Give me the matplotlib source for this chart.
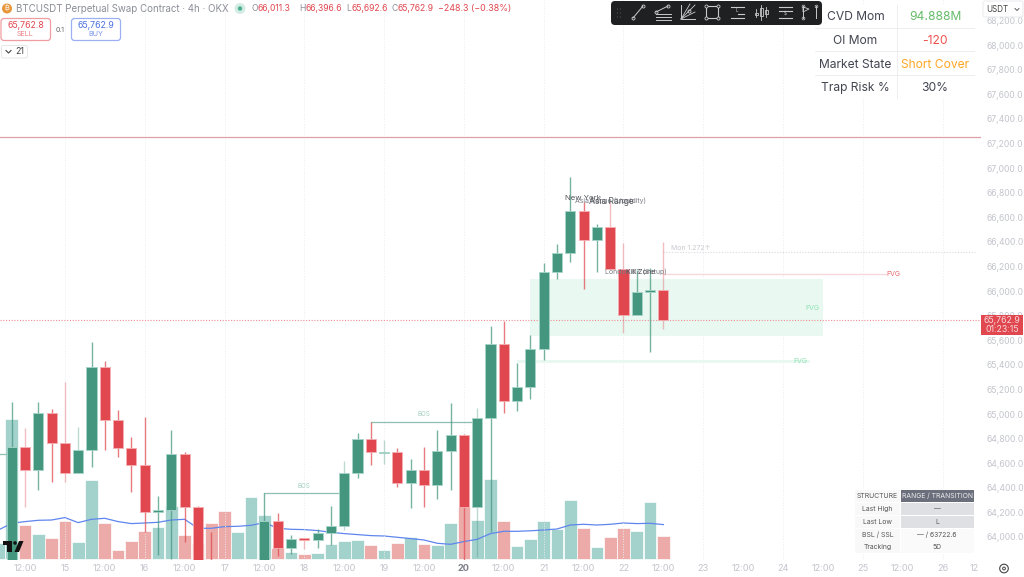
import matplotlib
matplotlib.use("Agg")
import matplotlib.pyplot as plt
from matplotlib.patches import Rectangle, FancyBboxPatch, Circle, Polygon

plt.rcParams["font.family"] = ["Inter", "DejaVu Sans"]

# candles, one every 4h, index 0 is 12:00 on the 14th
candle_idx = list(range(-2, 49))
opens = [63600, 63700, 64729, 64545, 65006, 64762, 64523, 64707, 65385, 64951, 64721, 64585,
         64206, 64220, 64677, 64241, 63700, 63600, 63500, 63550, 63720, 64130, 63908, 63992,
         63976, 64033, 64089, 64518, 64799, 64685, 64689, 64439, 64545, 64425, 64697, 64832,
         64244, 64965, 65567, 65108, 65222, 65528, 66157, 66311, 66648, 66412, 66518, 66179,
         65802, 65989, 66011.3]
highs = [63720, 65098, 64884, 65098, 65038, 65263, 64892, 65583, 65431, 65030, 64815, 64973,
         64333, 64870, 64694, 64252, 64041, 63650, 63600, 63700, 64358, 64198, 64016, 63994,
         64065, 64255, 64620, 64848, 64937, 64789, 64721, 64632, 64729, 64870, 65087, 64835,
         65046, 65715, 65756, 65417, 65642, 66225, 66382, 66924, 66726, 66545, 66721, 66393,
         66171, 66185, 66396.6]
lows = [63550, 63600, 64246, 64382, 64445, 64450, 64523, 64567, 64707, 64653, 64366, 64043,
        63854, 63824, 63962, 63600, 63500, 63450, 63450, 63500, 63600, 63848, 63859, 63900,
        63913, 63935, 64057, 64477, 64585, 64591, 64409, 64238, 64241, 64309, 64382, 63800,
        63840, 64038, 65006, 65024, 65120, 65439, 66095, 66238, 66014, 66157, 66179, 65656,
        65802, 65507, 65692.6]
closes = [63700, 64729, 64545, 65006, 64762, 64523, 64707, 65385, 64951, 64721, 64585, 64206,
          64220, 64677, 64241, 63700, 63550, 63500, 63550, 63650, 64130, 63908, 63986, 63976,
          64033, 64089, 64518, 64799, 64689, 64694, 64439, 64545, 64425, 64697, 64832, 64244,
          64965, 65567, 65108, 65222, 65528, 66157, 66311, 66648, 66412, 66518, 66179, 65802,
          65989, 66006, 65762.9]
volumes = [16, 140, 34.3, 25, 21.3, 38, 17.3, 79.3, 36, 9.3, 18.7, 28.7,
           32.3, 53.3, 24.3, 16, 36.3, 48.3, 27, 62.3, 44.7, 11, 7.3, 5.3,
           6, 15.7, 18.3, 19.3, 14.3, 9.3, 16.3, 22.3, 15, 14.7, 36, 52.7,
           39, 80, 38.3, 13, 20.3, 38.7, 30.7, 59, 31.3, 12.3, 22.3, 31.3,
           28.3, 57, 23.3]
volume_ma = [29.3, 36, 37.7, 39, 39.3, 41.7, 36.7, 40, 41, 37.7, 35.7, 36.3,
             37, 39.3, 40, 31, 31, 32.7, 33, 34, 36.7, 31, 30, 29.7,
             28.7, 27, 25.7, 24.7, 23.7, 23.3, 22, 20.7, 19.3, 16, 15, 17.7,
             20, 25.7, 28, 28, 28.5, 29.3, 30.3, 34.3, 35, 34.3, 35, 36.3,
             35.7, 36, 34.7]

price_ticks = list(range(64000, 68400, 200))
time_ticks = [0, 3, 6, 9, 12, 15, 18, 21, 24, 27, 30, 33, 36, 39, 42, 45, 48, 51, 54, 57, 60, 63, 66, 69, 71.4]
time_labels = ["12:00", "15", "12:00", "16", "12:00", "17", "12:00", "18", "12:00", "19", "12:00", "20",
               "12:00", "21", "12:00", "22", "12:00", "23", "12:00", "24", "12:00", "25", "12:00", "26", "12"]
day_ticks = [3, 9, 15, 21, 27, 33, 39, 45, 51, 57, 63, 69]

last_price = 65762.9
upper_line = 67252
fvg_box = (38, 60, 65637, 66098)
fvg_thin = (37, 59, 65411, 65443)
fvg_red = (48, 64.7, 66142)
mon_level = (48, 71.4, 66321)
bos_lines = [(18, 24, 64358), (26, 34, 64939)]
pale_wicks = {0, 3, 4, 21, 24, 27, 34, 44, 45, 48}

GREEN = "#44967f"
RED = "#e0474f"
GRID = "#ececef"
AXTXT = "#c3c5cc"

fig = plt.figure(figsize=(10.24, 5.77), dpi=100, facecolor="white")
W, H = 1024.0, 577.0
rect = [0, 1 - 560 / H, 981 / W, 560 / H]

vol = fig.add_axes(rect, zorder=1)
ax = fig.add_axes(rect, zorder=2)
ax.patch.set_visible(False)

xlim = (-1.88, 71.88)
vol.set_xlim(*xlim)
vol.set_ylim(-0.7, 559.3)
vol.axis("off")
ax.set_xlim(*xlim)
ax.set_ylim(63813, 68366)

vol_cols = ["#a3d1cc" if c >= o else "#ecaaa8" for o, c in zip(opens, closes)]
vol.bar(candle_idx, volumes, width=0.96, color=vol_cols, edgecolor="white", linewidth=0.5)
vol.plot(candle_idx, volume_ma, color="#5f86ee", lw=0.9)

ax.vlines(day_ticks, 63813, 68366, color=GRID, lw=0.7, linestyle=":", zorder=0)

# levels and zones behind the candles
ax.add_patch(Rectangle((fvg_box[0], fvg_box[2]), fvg_box[1] - fvg_box[0], fvg_box[3] - fvg_box[2],
                       color="#e9f8f1", lw=0, zorder=1))
ax.add_patch(Rectangle((fvg_thin[0], fvg_thin[2]), fvg_thin[1] - fvg_thin[0], fvg_thin[3] - fvg_thin[2],
                       color="#e9f8f1", lw=0, zorder=1))
ax.axhline(upper_line, color="#dfa0a5", lw=0.9, zorder=1)
ax.axhline(last_price, color="#ee8d92", lw=0.8, linestyle=(0, (1, 1.5)), zorder=1)
ax.plot(fvg_red[:2], [fvg_red[2]] * 2, color="#f8d8da", lw=1.0, zorder=1)
ax.plot(mon_level[:2], [mon_level[2]] * 2, color="#d9d9dc", lw=0.8, linestyle=(0, (1, 1.5)), zorder=1)
for x0, x1, y in bos_lines:
    ax.plot([x0, x1], [y, y], color="#8fbfb0", lw=0.9, zorder=1)
ax.plot([-2, -1], [64675, 64675], color="#8fbfb0", lw=0.9, zorder=1)

for i, o, h, l, c in zip(candle_idx, opens, highs, lows, closes):
    col = GREEN if c >= o else RED
    ax.vlines(i, l, h, color=col, lw=1.0, alpha=0.35 if i in pale_wicks else 0.72, zorder=2)
    edge = "#a8d5ca" if c >= o else "#f4b0b3"
    ax.bar(i, abs(c - o), bottom=min(o, c), width=0.76, color=col, edgecolor=edge, linewidth=0.6, zorder=3)

ax.text(59.2, 65862, "FVG", color="#8fe3b2", fontsize=5, ha="center", va="center", zorder=4)
ax.text(58.3, 65427, "FVG", color="#8fe3b2", fontsize=5, ha="center", va="center", zorder=4)
ax.text(65.3, 66142, "FVG", color="#e8676e", fontsize=5, ha="center", va="center", zorder=4)
ax.text(48.6, 66350, "Mon 1.272↑", color="#c9cad0", fontsize=5, ha="left", va="center", zorder=4)
ax.text(21, 64415, "BOS", color="#a3cfc3", fontsize=4.5, ha="center", va="center", zorder=4)
ax.text(30, 65000, "BOS", color="#a3cfc3", fontsize=4.5, ha="center", va="center", zorder=4)
ax.text(41.95, 66756, "New York", color="#55585f", fontsize=5.6, ha="center", va="center", zorder=4)
ax.text(44, 66730, "Asia Range (Liquidity)", color="#7c7e85", fontsize=5, ha="center", va="center", zorder=4)
ax.text(44.1, 66730, "Asia Range", color="#55585f", fontsize=6.2, ha="center", va="center", zorder=4)
ax.text(45.9, 66157, "London KZ (Setup)", color="#7c7e85", fontsize=5, ha="center", va="center", zorder=4)
ax.text(46.3, 66157, "Kill Zone", color="#55585f", fontsize=5.2, ha="center", va="center", zorder=4)

for s in ax.spines.values():
    s.set_visible(False)
ax.yaxis.tick_right()
ax.set_yticks(price_ticks)
ax.set_yticklabels([f"{p:,.1f}" for p in price_ticks], color=AXTXT, fontsize=6.2)
ax.tick_params(axis="y", length=0, pad=4)
ax.set_xticks(time_ticks)
ax.set_xticklabels(time_labels, color=AXTXT, fontsize=6.6)
ax.tick_params(axis="x", length=0, pad=3)
ax.get_xticklabels()[11].set_color("#7b7e87")
ax.get_xticklabels()[11].set_fontweight("bold")

# interface overlay, in pixels of the screenshot
ui = fig.add_axes([0, 0, 1, 1], zorder=3)
ui.set_xlim(0, W)
ui.set_ylim(H, 0)
ui.axis("off")
ui.patch.set_visible(False)


def box(x0, y0, x1, y1, face, edge="none", lw=0.0, rad=0.0):
    if rad:
        p = FancyBboxPatch((x0 + rad, y0 + rad), x1 - x0 - 2 * rad, y1 - y0 - 2 * rad,
                           boxstyle=f"round,pad={rad},rounding_size={rad}", fc=face, ec=edge, lw=lw)
    else:
        p = Rectangle((x0, y0), x1 - x0, y1 - y0, fc=face, ec=edge, lw=lw)
    ui.add_patch(p)


def txt(x, y, s, color="#444", size=7, ha="center", **kw):
    ui.text(x, y, s, color=color, fontsize=size, ha=ha, va="center", **kw)


# header
ui.add_patch(Circle((7, 8.5), 5, fc="#e8963a", ec="none"))
txt(7, 8.5, "₿", "white", 5.5)
txt(15.5, 8.5, "BTCUSDT Perpetual Swap Contract · 4h · OKX", "#8b8e97", 7.0, ha="left")
ui.add_patch(Circle((240, 8.5), 5.5, fc="#d5ece5", ec="none"))
ui.add_patch(Circle((240, 8.5), 2.2, fc="#4caf93", ec="none"))
ohlc = [(252, "O", "66,011.3"), (299, "H", "66,396.6"), (346, "L", "65,692.6"), (392, "C", "65,762.9")]
for x, k, v in ohlc:
    txt(x, 8.5, k, "#8b8e97", 6.2, ha="left")
    txt(x + 6, 8.5, v, "#e0474f", 6.2, ha="left")
txt(438, 8.5, "−248.3 (−0.38%)", "#e0474f", 6.4, ha="left")

box(1, 18.5, 50.5, 40.5, "white", "#f09ca0", 0.9, 3)
txt(25.5, 25, "65,762.8", "#e0474f", 6.3)
txt(25.5, 34, "SELL", "#ec7d82", 5.2)
txt(60.5, 30, "0.1", "#666", 5)
box(71.5, 18.5, 120.5, 40.5, "white", "#9cb0f4", 0.9, 3)
txt(96, 25, "65,762.9", "#4a6ee0", 6.3)
txt(96, 34, "BUY", "#7d96ec", 5.2)
box(1.5, 45.5, 27.5, 58, "white", "#e6e7ea", 0.7, 2)
ui.plot([6, 8.5, 11], [50.5, 53, 50.5], color="#444", lw=0.8)
txt(19.5, 51.8, "21", "#444", 6.4)

# top right table, the toolbar sits over its left end
box(815, 5, 974, 98, "white")
for yy in (27.5, 51, 74.5):
    ui.plot([815, 974], [yy, yy], color="#eeeef0", lw=0.7)
ui.plot([896.5, 896.5], [5, 98], color="#eeeef0", lw=0.7)
left_rows = ["CVD Mom", "OI Mom", "Market State", "Trap Risk %"]
right_rows = ["94.888M", "-120", "Short Cover", "30%"]
right_cols = ["#66bb6a", "#ef5350", "#ffa726", "#434651"]
for yy, a, b, c in zip((17.5, 41, 64.5, 88), left_rows, right_rows, right_cols):
    txt(855.5, yy, a, "#434651", 8.7)
    txt(935, yy, b, c, 8.7)

# drawing toolbar
box(611, 1, 822, 25, "#1f2022", "none", 0, 4)
for gx in (617.5, 620.5):
    for gy in (9, 13, 17):
        ui.add_patch(Circle((gx, gy), 0.5, fc="#666", ec="none"))
IC = "#c9cacc"
ui.plot([633, 643], [18, 6], color=IC, lw=0.7, marker="o", ms=2.2, mfc="none", mew=0.6)
ui.plot([656, 668], [12, 6], color=IC, lw=0.7, marker="o", ms=2.2, mfc="none", mew=0.6)
for yy in (14, 17, 19.5):
    ui.plot([656, 671], [yy, yy], color=IC, lw=0.7)
ui.plot([681, 681, 695], [5, 19, 19], color=IC, lw=0.7)
for xe, ye in [(695, 5), (690, 4), (695, 12)]:
    ui.plot([681, xe], [19, ye], color=IC, lw=0.6)
ui.plot([689], [11], color=IC, marker="o", ms=2.2, mfc="none", mew=0.6)
ui.add_patch(Rectangle((706, 6), 12, 12, fc="none", ec=IC, lw=0.8))
for cx, cy in [(706, 6), (718, 6), (706, 18), (718, 18)]:
    ui.plot([cx], [cy], color=IC, marker="o", ms=2.2, mfc="#1f2022", mew=0.6)
for yy, xa in [(7, 731), (14, 738), (18, 731)]:
    ui.plot([xa, 744], [yy, yy], color=IC, lw=0.8)
txt(737, 11, "L", IC, 3.5)
for xx, a, b, c, d in [(756, 9, 15, 13, 17), (761, 5, 8, 16, 20), (766, 7, 10, 14, 17)]:
    ui.plot([xx, xx], [a, d], color=IC, lw=0.6)
    ui.add_patch(Rectangle((xx - 1.5, b), 3, c - b, fc="none", ec=IC, lw=0.6))
for yy in (7, 11, 18):
    ui.plot([779, 792], [yy, yy], color=IC, lw=0.8)
txt(785.5, 14.5, "$", IC, 3.5)
ui.plot([803, 803], [6, 18], color=IC, lw=0.7, marker="o", ms=2, mfc="none", mew=0.5)
ui.add_patch(Polygon([(803, 7), (809, 9), (803, 12)], fc="none", ec=IC, lw=0.6))
ui.plot([815.5, 815.5], [6, 18], color=IC, lw=0.7)
ui.plot([815.5], [6], color=IC, marker="o", ms=2, mfc="none", mew=0.5)

# bottom right table
rows = [("STRUCTURE", "RANGE / TRANSITION"), ("Last High", "—"), ("Last Low", "L"),
        ("BSL / SSL", "— / 63722.6"), ("Tracking", "5D")]
row_y = [489.5, 502.5, 515.5, 528.5, 541, 553.5]
for k, (a, b) in enumerate(rows):
    y0, y1 = row_y[k], row_y[k + 1]
    box(855, y0, 900, y1 - 0.4, "#f8f8f9")
    face = "#6b6e7b" if k == 0 else ("#dfe0e4" if k < 3 else "#fafafb")
    box(900.5, y0, 974, y1 - 0.4, face)
    ym = (y0 + y1) / 2
    txt(877.5, ym, a, "#555", 4.9)
    txt(937, ym, b, "#eeeeF2" if k == 0 else "#555", 4.9)

# last price tag and bottom corner bits
box(981, 315, 1023, 335, "#e0474f")
txt(1002, 320.5, "65,762.9", "#f7d9db", 6.3)
txt(1002, 329.5, "01:23:15", "#f7d9db", 6.3)
box(983, 1, 1023, 17, "white", "#e6e7ea", 0.6, 2)
txt(986, 9, "USDT", "#444", 5.8, ha="left")
ui.plot([1015, 1017, 1019], [8.5, 10.5, 8.5], color="#444", lw=0.6)
ui.add_patch(Circle((1004, 568.5), 4.3, fc="none", ec="#444", lw=0.8))
ui.add_patch(Circle((1004, 568.5), 1.4, fc="none", ec="#444", lw=0.7))

box(3, 541, 11.5, 544.5, "#111")
box(6.5, 541, 11.5, 552, "#111")
ui.add_patch(Circle((15, 543), 1.8, fc="#111", ec="none"))
ui.add_patch(Polygon([(14.5, 552), (19, 541), (23.5, 541), (19, 552)], fc="#111", ec="none"))

fig.savefig("out.png", dpi=100)
